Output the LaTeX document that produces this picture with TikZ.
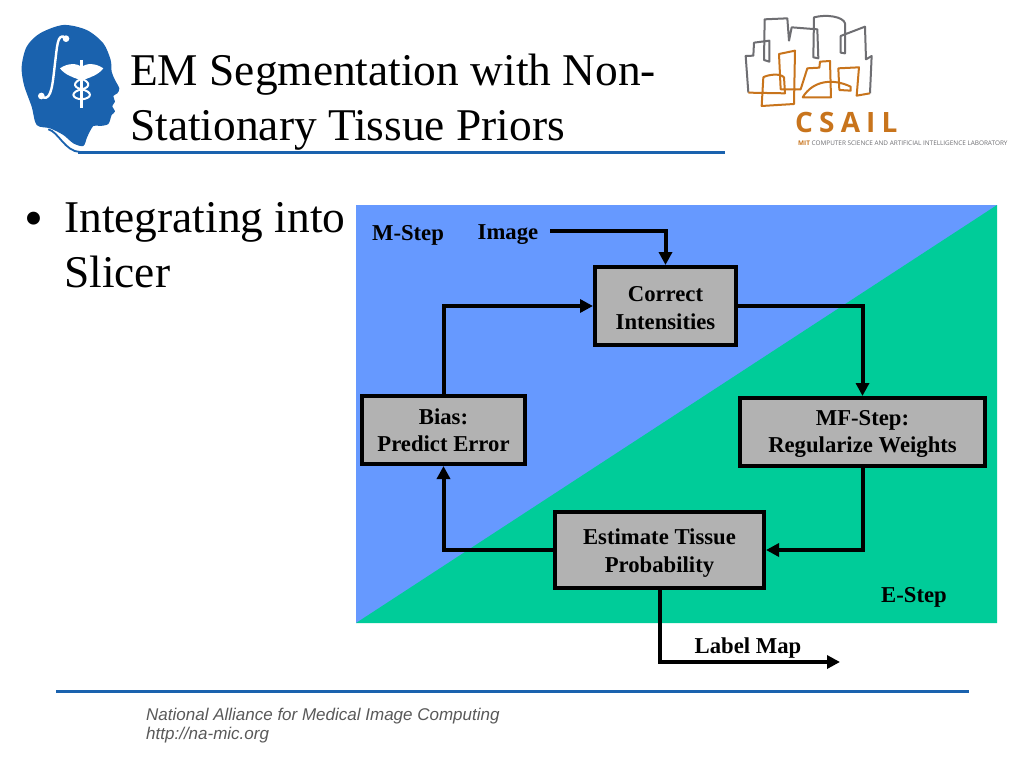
\documentclass[tikz,border=0pt]{standalone}
\usepackage{fontspec}
\setmainfont{Liberation Serif}
\setsansfont{Liberation Sans}
\newfontfamily\csailfont[LetterSpace=22]{Open Sans}
\newfontfamily\tagfont{Open Sans}
\usetikzlibrary{arrows.meta,positioning}
\definecolor{mblue}{HTML}{6699FF}
\definecolor{egreen}{HTML}{00CC99}
\definecolor{boxgray}{HTML}{B2B2B2}
\definecolor{rulecol}{HTML}{1A62AE}
\definecolor{csailor}{HTML}{C8741C}
\definecolor{csailgr}{HTML}{6E6E72}
\newcommand{\firstline}[1]{\rule{0pt}{#1}}
\tikzset{
    stepbox/.style={
           rectangle,
           draw=black, line width=4pt,
           fill=boxgray,
           align=center,
           inner sep=0pt,
           font=\fontsize{22.7}{27.5}\selectfont\bfseries
           },
    steplabel/.style={
           inner sep=0pt,
           font=\fontsize{22.7}{27.5}\selectfont\bfseries
           },
    flow/.style={
           ->, line width=4pt
           },
    bigtext/.style={
           inner sep=0pt,
           anchor=north west,
           align=left,
           font=\fontsize{45.4}{55}\selectfont
           },
    foot/.style={
           inner sep=0pt,
           anchor=base west,
           text=black!65,
           font=\fontsize{17}{19}\selectfont\sffamily\itshape
           }
}

\begin{document}
\begin{tikzpicture}[x=1pt,y=-1pt, >={Triangle[length=13pt,width=13pt]}, node distance=100pt,on grid]
\useasboundingbox (0,0) rectangle (1024,768);
\fill[white] (0,0) rectangle (1024,768);
% background of the diagram
\fill[mblue] (356,205) rectangle (997,623);
\fill[egreen] (997,205) -- (997,623) -- (356,623) -- cycle;
% boxes
   \node[stepbox, minimum width=141pt, minimum height=78pt] (correct) at (665.5,306) {\firstline{19pt}Correct\\Intensities};
   \node[stepbox, minimum width=163pt, minimum height=68pt] (bias) [below left=124pt and 222pt of correct] {Bias:\\Predict Error};
   \node[stepbox, minimum width=245pt, minimum height=68pt] (mf) [below right=126pt and 197pt of correct] {\firstline{19pt}MF-Step:\\Regularize Weights};
   \node[stepbox, minimum width=209pt, minimum height=76pt] (estimate) [below left=244pt and 6pt of correct] {\firstline{22pt}Estimate Tissue\\Probability};
% labels
   \node[steplabel] (mstep) at (408,235) {M-Step};
   \node[steplabel] (image) at (508,235) {Image};
   \node[steplabel] (estep) at (914,597) {E-Step};
   \node[steplabel] (labelmap) at (748,648) {Label Map};
   \coordinate (imagestart) at (550,231);
   \coordinate (labelend) at (840,662);
% connectors
   \draw[flow] (imagestart) -| (correct);
   \draw[flow] (correct) -| (mf);
   \draw[flow] (mf) |- (estimate);
   \draw[flow] (estimate) -| (bias);
   \draw[flow] (bias) |- (correct);
   \draw[flow] (estimate) |- (labelend);
% slide text
   \node[bigtext] (title) at (130,54) {EM Segmentation with Non-\\Stationary Tissue Priors};
   \node[inner sep=0pt, anchor=base west, font=\fontsize{54}{54}\selectfont] (bullet) at (24,236) {•};
   \node[bigtext] (into) at (64,202.5) {Integrating into\\Slicer};
   \node[foot] (foota) at (146,720) {National Alliance for Medical Image Computing};
   \node[foot] (footb) at (146,739) {http://na-mic.org};
% rules
\fill[rulecol] (78,151) rectangle (725,154);
\fill[rulecol] (56,689.5) rectangle (969,692.5);
% head logo
\begin{scope}[x=0.3333pt,y=-0.3333pt]
\fill[rulecol] plot[smooth cycle, tension=0.5] coordinates {(110,375) (95,320) (72,255) (65,200) (80,140) (120,100) (190,75) (260,90) (310,130) (332,180) (335,215) (345,240) (358,265) (352,280) (340,288) (345,305) (337,318) (345,335) (335,345) (325,372) (300,378) (280,378) (262,410) (250,438) (220,430) (190,405) (150,385)};
\draw[rulecol, line width=1.8pt] (145,388) .. controls (175,395) and (195,455) .. (240,456);
% integral sign
\draw[white, line width=2.4pt] (192,110) .. controls (172,105) and (172,135) .. (165,190) .. controls (158,250) and (155,300) .. (130,293);
\fill[white] (198,116) circle[radius=10] (124,288) circle[radius=10];
% caduceus
\draw[white, line width=3pt] (245,180) -- (245,325);
\fill[white] (180,205) .. controls (205,188) and (230,190) .. (245,200) .. controls (260,190) and (285,188) .. (310,205) .. controls (295,225) and (270,232) .. (255,238) -- (235,238) .. controls (220,232) and (195,225) .. cycle;
\draw[white, line width=2pt] (218,228) .. controls (275,240) and (275,262) .. (245,268) .. controls (212,275) and (212,295) .. (245,298);
\draw[white, line width=2pt] (272,228) .. controls (215,240) and (215,262) .. (245,268) .. controls (278,275) and (278,295) .. (245,298);
\end{scope}
% csail logo
\begin{scope}[shift={(730,0)},x=0.3333pt,y=-0.3333pt]
\draw[csailgr, line width=2pt, line join=round] (55,278) -- (47,168) -- (70,167) -- (72,128) -- (118,122) -- (118,185) -- (102,180) -- (104,58) -- (172,55) -- (177,122) -- (185,82) -- (262,88) -- (265,175) -- (250,172) -- (252,52) .. controls (290,42) and (340,50) .. (345,70) -- (345,160) -- (332,158) -- (332,108) -- (405,80) -- (408,178) -- (425,168) -- (420,280);
\draw[csailor, line width=2pt, line join=round] (55,278) -- (165,280) -- (162,232) .. controls (150,218) and (110,225) .. (100,232) -- (95,318) -- (192,312) -- (195,152) -- (147,162) -- (152,268) -- (212,268) -- (232,205) -- (268,203) -- (270,185) -- (300,183) -- (303,292) -- (218,292) .. controls (250,240) and (310,235) .. (362,260) -- (362,272) -- (328,270) -- (325,205) -- (387,202) -- (380,287) -- (420,280);
\end{scope}
   \node[inner sep=0pt, anchor=base west, text=csailor, font=\fontsize{28}{28}\selectfont\csailfont\bfseries] (csail) at (795,132) {CSAIL};
   \node[inner sep=0pt, anchor=base west, text=csailgr, font=\fontsize{6.4}{7}\selectfont\tagfont] (tagline) at (798,145.5) {\textcolor{csailor}{\bfseries MIT} COMPUTER SCIENCE AND ARTIFICIAL INTELLIGENCE LABORATORY};
\end{tikzpicture}
\end{document}
